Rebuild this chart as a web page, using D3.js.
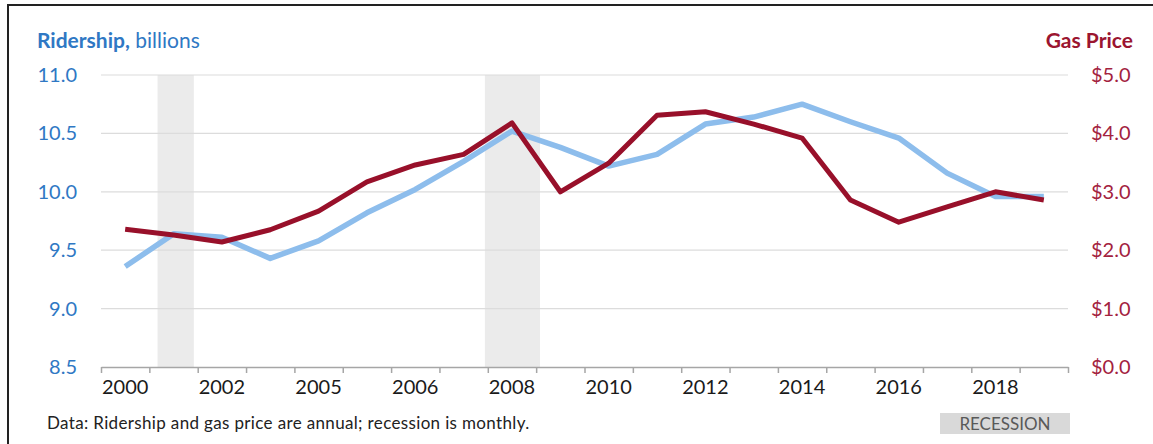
<!DOCTYPE html>
<html>
<head>
<meta charset="utf-8">
<script src="https://cdn.jsdelivr.net/npm/d3@7"></script>
<style>
  body { margin: 0; background: #fff; }
  svg { display: block; font-family: Lato, "Open Sans", sans-serif; }
</style>
</head>
<body>
<script>
// Category slots (20 annual points), labels shown on every other slot
const tickLabels = ["2000", "", "2002", "", "2005", "", "2006", "", "2008", "",
  "2010", "", "2012", "", "2014", "", "2016", "", "2018", ""];
const ridership = [9.36, 9.64, 9.61, 9.43, 9.58, 9.82, 10.02, 10.26, 10.52, 10.38,
  10.22, 10.32, 10.58, 10.64, 10.75, 10.60, 10.46, 10.16, 9.96, 9.96];
const gasPrice = [2.36, 2.26, 2.14, 2.35, 2.67, 3.17, 3.46, 3.64, 4.18, 3.00,
  3.49, 4.31, 4.37, 4.16, 3.92, 2.86, 2.48, 2.74, 3.00, 2.86];
// recession spans, in slot units (monthly resolution)
const recessions = [[1.17, 1.92], [7.94, 9.08]];
const leftTicks = [8.5, 9.0, 9.5, 10.0, 10.5, 11.0];
const rightTicks = [0, 1, 2, 3, 4, 5];

const W = 1153, H = 444;
const BLUE = "#8dbdec", RED = "#98102a";

const svg = d3.select("body").append("svg").attr("width", W).attr("height", H);

// frame
svg.append("rect").attr("x", 8).attr("y", 5).attr("width", W + 10).attr("height", H + 10)
  .attr("fill", "none").attr("stroke", "#222").attr("stroke-width", 2);

const x0 = 101, x1 = 1068, yTop = 75, yBot = 367;
const xs = d3.scaleLinear().domain([0, tickLabels.length]).range([x0, x1]);
const xc = (i) => xs(i + 0.5);
const yL = d3.scaleLinear().domain([8.5, 11.0]).range([yBot, yTop]);
const yR = d3.scaleLinear().domain([0, 5]).range([yBot, yTop]);

// recession shading
svg.append("g").selectAll("rect").data(recessions).join("rect")
  .attr("x", (d) => xs(d[0])).attr("width", (d) => xs(d[1]) - xs(d[0]))
  .attr("y", yTop).attr("height", yBot - yTop).attr("fill", "#ebebeb");

// gridlines
svg.append("g").selectAll("line").data(leftTicks.slice(1)).join("line")
  .attr("x1", x0).attr("x2", x1)
  .attr("y1", (d) => yL(d)).attr("y2", (d) => yL(d))
  .attr("stroke", "#dcdcdc").attr("stroke-width", 1.2);

// x axis
const xAxis = d3.axisBottom(xs)
  .tickValues(d3.range(tickLabels.length + 1))
  .tickFormat("").tickSize(6).tickSizeOuter(0);
const gx = svg.append("g").attr("transform", `translate(0,${yBot})`).call(xAxis);
gx.select(".domain").attr("stroke", "#a6a6a6").attr("stroke-width", 1.5);
gx.selectAll(".tick line").attr("stroke", "#a6a6a6").attr("stroke-width", 1.5);

svg.append("g").selectAll("text").data(tickLabels).join("text")
  .attr("x", (d, i) => xc(i)).attr("y", 394)
  .attr("text-anchor", "middle").attr("font-size", 20).attr("fill", "#1a1a1a")
  .text((d) => d);

// left axis labels
const gl = svg.append("g").attr("transform", "translate(80,0)")
  .call(d3.axisLeft(yL).tickValues(leftTicks).tickFormat(d3.format(".1f")).tickSize(0));
gl.select(".domain").remove();
gl.selectAll("text").attr("font-size", 20).attr("fill", "#2f78c4")
  .attr("font-family", "Lato, sans-serif").attr("dy", "0.32em");

// right axis labels
const gr = svg.append("g").attr("transform", "translate(1088,0)")
  .call(d3.axisRight(yR).tickValues(rightTicks).tickFormat((d) => "$" + d.toFixed(1)).tickSize(0));
gr.select(".domain").remove();
gr.selectAll("text").attr("font-size", 20).attr("fill", "#a3223e")
  .attr("font-family", "Lato, sans-serif").attr("dy", "0.32em");

// lines
const ridLine = d3.line().x((d, i) => xc(i)).y((d) => yL(d));
const gasLine = d3.line().x((d, i) => xc(i)).y((d) => yR(d));
svg.append("path").datum(ridership).attr("d", ridLine)
  .attr("fill", "none").attr("stroke", BLUE).attr("stroke-width", 5.5)
  .attr("stroke-linejoin", "round");
svg.append("path").datum(gasPrice).attr("d", gasLine)
  .attr("fill", "none").attr("stroke", RED).attr("stroke-width", 5)
  .attr("stroke-linejoin", "round");

// titles
const t1 = svg.append("text").attr("x", 37).attr("y", 48).attr("font-size", 21).attr("fill", "#2f78c4");
t1.append("tspan").attr("font-weight", "bold").text("Ridership,");
t1.append("tspan").text(" billions");
svg.append("text").attr("x", 1133).attr("y", 48).attr("text-anchor", "end")
  .attr("font-size", 21).attr("font-weight", "bold").attr("fill", "#9b1530").text("Gas Price");

// note
svg.append("text").attr("x", 47).attr("y", 429).attr("font-size", 17).attr("fill", "#222")
  .attr("letter-spacing", 0.35)
  .text("Data: Ridership and gas price are annual; recession is monthly.");

// recession legend
svg.append("rect").attr("x", 940).attr("y", 413).attr("width", 130).attr("height", 21).attr("fill", "#d9d9d9");
svg.append("text").attr("x", 1005).attr("y", 430).attr("text-anchor", "middle")
  .attr("font-size", 17).attr("fill", "#595959").text("RECESSION");
</script>
</body>
</html>
